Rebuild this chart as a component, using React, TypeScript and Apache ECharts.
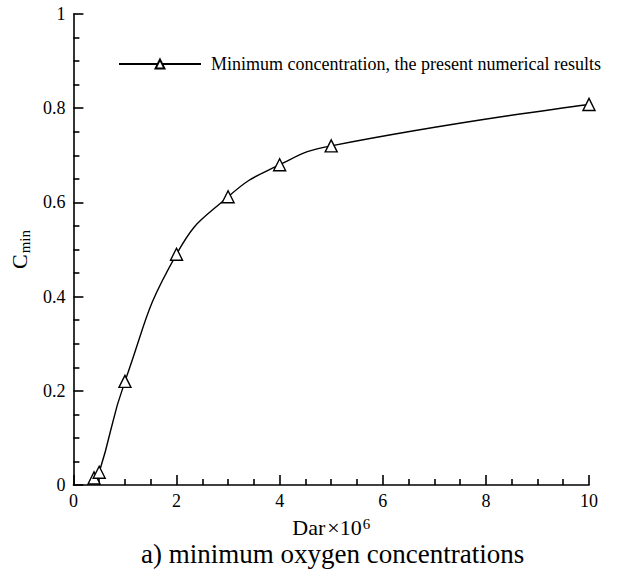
import React, { useEffect, useRef } from "react";
import * as echarts from "echarts";

const darValues = [0.4, 0.5, 1, 2, 3, 4, 5, 10];
const cminValues = [0.015, 0.027, 0.22, 0.49, 0.612, 0.68, 0.72, 0.808];
const seriesName = "Minimum concentration, the present numerical results";
const captionText = "a) minimum oxygen concentrations";

const FONT = "Liberation Serif";

export default function App() {
  const ref = useRef<HTMLDivElement>(null);
  useEffect(() => {
    if (!ref.current) return;
    const chart = echarts.init(ref.current, undefined, { renderer: "svg" });
    const data = darValues.map((x, i) => [x, cminValues[i]]);
    chart.setOption({
      animation: false,
      backgroundColor: "#ffffff",
      textStyle: { fontFamily: FONT, color: "#000" },
      grid: { left: 71, right: 29, top: 14, bottom: 85 },
      title: {
        text: captionText,
        left: 141,
        top: 540,
        padding: 0,
        textStyle: { fontFamily: FONT, fontSize: 27, fontWeight: "normal", color: "#000", lineHeight: 27 },
      },
      legend: {
        left: 118,
        top: 55,
        padding: 0,
        itemWidth: 82,
        itemHeight: 11,
        data: [seriesName],
        textStyle: { fontFamily: FONT, fontSize: 18, color: "#000", padding: [0, 0, 0, 5] },
      },
      xAxis: {
        type: "value",
        min: 0,
        max: 10,
        interval: 2,
        name: "{b|Dar}{x|×10}{sup|6}",
        nameLocation: "middle",
        nameGap: 31,
        nameTextStyle: {
          rich: {
            b: { fontFamily: FONT, fontSize: 22, color: "#000", verticalAlign: "bottom", lineHeight: 22 },
            x: { fontFamily: FONT, fontSize: 22, color: "#000", verticalAlign: "bottom", lineHeight: 22, padding: [0, 0, 0, 2] },
            sup: { fontFamily: FONT, fontSize: 15, color: "#000", verticalAlign: "top", lineHeight: 15, padding: [0, 0, 12, 1] },
          },
        },
        axisLine: { lineStyle: { color: "#000", width: 1.6 } },
        axisTick: { inside: true, length: 10, lineStyle: { color: "#000", width: 1.6 } },
        minorTick: { show: true, splitNumber: 4, length: 6, lineStyle: { color: "#000", width: 1.6 } },
        axisLabel: { fontFamily: FONT, fontSize: 18, color: "#000", margin: 7 },
        splitLine: { show: false },
      },
      yAxis: {
        type: "value",
        min: 0,
        max: 1,
        interval: 0.2,
        name: "{b|C}{sub|min}",
        nameLocation: "middle",
        nameRotate: 90,
        nameGap: 38,
        nameTextStyle: {
          rich: {
            b: { fontFamily: FONT, fontSize: 22, color: "#000", verticalAlign: "top" },
            sub: { fontFamily: FONT, fontSize: 15, color: "#000", verticalAlign: "bottom", padding: [9, 0, 0, 1] },
          },
        },
        axisLine: { show: true, lineStyle: { color: "#000", width: 1.6 } },
        axisTick: { show: true, inside: true, length: 10, lineStyle: { color: "#000", width: 1.6 } },
        minorTick: { show: true, splitNumber: 4, length: 6, lineStyle: { color: "#000", width: 1.6 } },
        axisLabel: { fontFamily: FONT, fontSize: 18, color: "#000", margin: 8 },
        splitLine: { show: false },
      },
      series: [
        {
          name: seriesName,
          type: "line",
          data,
          smooth: 0.5,
          symbol: "triangle",
          symbolSize: 12,
          showAllSymbol: true,
          lineStyle: { color: "#000", width: 1.4 },
          itemStyle: { color: "#fff", borderColor: "#000", borderWidth: 1.4 },
        },
      ],
    });
    return () => chart.dispose();
  }, []);
  return (
    <div
      ref={ref}
      style={{ position: "fixed", left: 0, top: 0, width: 618, height: 570 }}
    />
  );
}
